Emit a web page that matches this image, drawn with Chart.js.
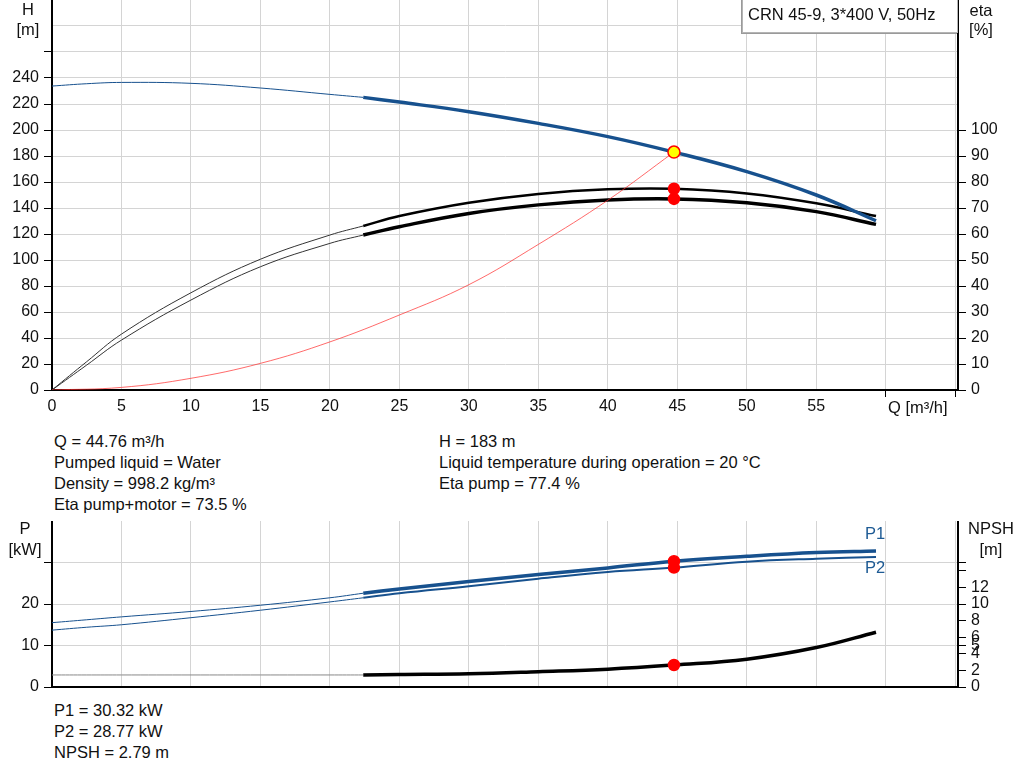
<!DOCTYPE html>
<html>
<head>
<meta charset="utf-8">
<script src="https://cdn.jsdelivr.net/npm/chart.js@4.4.1/dist/chart.umd.min.js"></script>
<style>
  body { margin: 0; background: #fff; }
  #wrap { position: relative; width: 1024px; height: 781px; overflow: hidden; font-family: 'Liberation Sans', Arial, sans-serif; font-size: 16.5px; color: #111; }
  .t { position: absolute; white-space: nowrap; line-height: 18px; }
  .c { text-align: center; }
  #topBox { position: absolute; left: 742px; top: -1px; width: 214px; height: 32px; background: #fff;
            border: 1px solid #b4b4b4; box-shadow: -1px 1px 0 #9a9a9a; }
  canvas { position: absolute; left: 0; }
</style>
</head>
<body>
<div id="wrap">
  <canvas id="topChart" width="1024" height="420" style="top:0"></canvas>
  <canvas id="bottomChart" width="1024" height="176" style="top:521px"></canvas>

  <div id="topBox"><span class="t" style="left:5px;top:5px">CRN 45-9, 3*400 V, 50Hz</span></div>

  <div class="t c" style="left:8px;top:0px;width:40px">H</div>
  <div class="t c" style="left:8px;top:20px;width:40px">[m]</div>
  <div class="t c" style="left:961px;top:1px;width:40px">eta</div>
  <div class="t c" style="left:961px;top:20px;width:40px">[%]</div>
  <div class="t" style="left:888px;top:398px">Q [m³/h]</div>

  <div class="t" style="left:54px;top:432px">Q = 44.76 m³/h</div>
  <div class="t" style="left:54px;top:453px">Pumped liquid = Water</div>
  <div class="t" style="left:54px;top:474px">Density = 998.2 kg/m³</div>
  <div class="t" style="left:54px;top:495px">Eta pump+motor = 73.5 %</div>
  <div class="t" style="left:439px;top:432px">H = 183 m</div>
  <div class="t" style="left:439px;top:453px">Liquid temperature during operation = 20 °C</div>
  <div class="t" style="left:439px;top:474px">Eta pump = 77.4 %</div>

  <div class="t c" style="left:5px;top:519px;width:40px">P</div>
  <div class="t c" style="left:5px;top:540px;width:40px">[kW]</div>
  <div class="t c" style="left:968px;top:519px;width:46px">NPSH</div>
  <div class="t c" style="left:968px;top:540px;width:46px">[m]</div>
  <div class="t" style="left:865px;top:524px;color:#1d5a94">P1</div>
  <div class="t" style="left:865px;top:558px;color:#1d5a94">P2</div>

  <div class="t" style="left:54px;top:701px">P1 = 30.32 kW</div>
  <div class="t" style="left:54px;top:722px">P2 = 28.77 kW</div>
  <div class="t" style="left:54px;top:743px">NPSH = 2.79 m</div>
</div>

<script>
// flow points [m3/h]: thin part (outside working range) and thick part
const qThin = [0, 2.5, 5, 10, 15, 20, 22.4];
const qThick = [22.4, 25, 30, 35, 40, 44.76, 50, 55, 59.3];

// head [m]
const hThin = [233.8, 235.6, 236.6, 235.9, 232.3, 227.4, 225.1];
const hThick = [225.1, 221.5, 214.1, 205.1, 194.9, 183, 168, 150, 130.2];

// efficiency [%]
const etaPumpThin = [0, 10.9, 21.5, 37.4, 50.3, 59.6, 63.1];
const etaPumpThick = [63.1, 66.9, 72.0, 75.4, 77.2, 77.4, 75.6, 71.8, 66.9];
const etaTotalThin = [0, 9.6, 19.2, 34.6, 47.4, 56.4, 59.6];
const etaTotalThick = [59.6, 62.8, 67.9, 71.2, 73.1, 73.5, 72.0, 68.6, 63.7];

// system curve
const qSys = [0, 5, 10, 15, 20, 25, 30, 35, 40, 44.76];
const hSys = [0, 2, 9, 20.5, 37, 57.7, 81, 112, 146, 183];

// power [kW] and NPSH [m]
const p1Thin = [15.5, 16.2, 16.9, 18.2, 19.7, 21.5, 22.6];
const p1Thick = [22.6, 23.6, 25.4, 27.1, 28.7, 30.32, 31.5, 32.4, 32.8];
const p2Thin = [13.7, 14.4, 15.0, 16.7, 18.5, 20.5, 21.5];
const p2Thick = [21.5, 22.6, 24.3, 26.1, 27.7, 28.77, 30.2, 30.9, 31.3];
const npshThin = [1.45, 1.45, 1.45, 1.45, 1.45, 1.45, 1.45];
const npshThick = [1.45, 1.5, 1.6, 1.85, 2.15, 2.65, 3.35, 4.75, 6.6];

// duty point (as drawn)
const dutyQ = 44.76;
const dutyH = 183;
const dutyEta = [77.4, 73.5];
const dutyP = [30.32, 28.77];
const dutyNpsh = 2.65;

// tick values
const qTicks = [0, 5, 10, 15, 20, 25, 30, 35, 40, 45, 50, 55, 60, 65];
const hTicks = [0, 20, 40, 60, 80, 100, 120, 140, 160, 180, 200, 220, 240, 260, 280];
const etaTicks = [0, 10, 20, 30, 40, 50, 60, 70, 80, 90, 100];
const pTicks = [0, 10, 20, 30];
const npshTicks = [0, 2, 4, 5, 6, 8, 10, 12, 14, 15];

const BLUE = '#17518e';
const GRID = '#d4d4d4';
const FONT = { family: "'Liberation Sans', Arial, sans-serif", size: 16 };
const CLEAR = 'rgba(0,0,0,0)';

function pts(xs, ys) {
  return xs.map((x, i) => ({ x: x, y: ys[i] }));
}

function curve(xs, ys, color, width, axis) {
  return {
    data: pts(xs, ys),
    yAxisID: axis,
    borderColor: color,
    borderWidth: width,
    pointRadius: 0,
    fill: false,
    tension: 0.4
  };
}

function dots(xs, ys, axis, fillColor, radius) {
  return {
    data: pts(xs, ys),
    yAxisID: axis,
    showLine: false,
    pointRadius: radius,
    pointBackgroundColor: fillColor,
    pointBorderColor: '#ff0000',
    pointBorderWidth: 1.5
  };
}

function setTicks(list) {
  return axis => { axis.ticks = list.map(v => ({ value: v })); };
}

// fixed axis size, no extra padding for the outer labels
function fixSize(key, size) {
  return s => {
    s[key] = size;
    s.paddingTop = 0;
    s.paddingBottom = 0;
    s.paddingLeft = 0;
    s.paddingRight = 0;
  };
}

const common = {
  responsive: false,
  animation: false,
  events: [],
  layout: { padding: 0, autoPadding: false },
  plugins: { legend: { display: false }, tooltip: { enabled: false } }
};

// upper chart: head, efficiency
new Chart(document.getElementById('topChart'), {
  type: 'line',
  data: {
    datasets: [
      dots([dutyQ], [dutyH], 'h', '#ffff00', 6),
      dots([dutyQ, dutyQ], dutyEta, 'eta', '#ff0000', 5.5),
      curve(qThick, hThick, BLUE, 3.5, 'h'),
      curve(qThin, hThin, BLUE, 1, 'h'),
      curve(qSys, hSys, '#ff2a2a', 0.7, 'h'),
      curve(qThick, etaPumpThick, '#000', 2.5, 'eta'),
      curve(qThin, etaPumpThin, '#333', 1, 'eta'),
      curve(qThick, etaTotalThick, '#000', 3.5, 'eta'),
      curve(qThin, etaTotalThin, '#333', 1, 'eta')
    ]
  },
  options: Object.assign({}, common, {
    scales: {
      x: {
        type: 'linear', min: 0, max: 65.2,
        afterBuildTicks: setTicks(qTicks),
        afterFit: fixSize('height', 30),
        border: { color: '#000', width: 2 },
        grid: { color: GRID, tickLength: 7, tickColor: c => (c.tick && c.tick.value >= 60 ? '#000' : CLEAR) },
        ticks: { font: FONT, color: '#111', padding: 0, autoSkip: false, maxRotation: 0,
                 callback: v => (v <= 55 ? v : '') }
      },
      h: {
        type: 'linear', position: 'left', min: 0, max: 300,
        afterBuildTicks: setTicks(hTicks),
        afterFit: fixSize('width', 52),
        border: { color: '#000', width: 2 },
        grid: { color: GRID, tickLength: 8, tickColor: c => (c.tick && c.tick.value <= 260 ? '#000' : CLEAR) },
        ticks: { font: FONT, color: '#111', padding: 5, autoSkip: false, callback: v => (v <= 240 ? v : '') }
      },
      eta: {
        type: 'linear', position: 'right', min: 0, max: 150,
        afterBuildTicks: setTicks(etaTicks),
        afterFit: fixSize('width', 66),
        border: { color: '#000', width: 2 },
        grid: { drawOnChartArea: false, tickLength: 8, tickColor: '#000' },
        ticks: { font: FONT, color: '#111', padding: 5, autoSkip: false }
      }
    }
  })
});

// lower chart: power, NPSH
new Chart(document.getElementById('bottomChart'), {
  type: 'line',
  data: {
    datasets: [
      dots([dutyQ, dutyQ], dutyP, 'p', '#ff0000', 5.5),
      dots([dutyQ], [dutyNpsh], 'npsh', '#ff0000', 5.5),
      curve(qThick, p1Thick, BLUE, 3.5, 'p'),
      curve(qThin, p1Thin, BLUE, 1, 'p'),
      curve(qThick, p2Thick, BLUE, 2, 'p'),
      curve(qThin, p2Thin, BLUE, 1, 'p'),
      curve(qThick, npshThick, '#000', 3.5, 'npsh'),
      curve(qThin, npshThin, '#888', 1, 'npsh')
    ]
  },
  options: Object.assign({}, common, {
    scales: {
      x: {
        type: 'linear', min: 0, max: 65.2,
        afterBuildTicks: setTicks(qTicks),
        afterFit: fixSize('height', 10),
        border: { color: '#000', width: 2 },
        grid: { color: GRID, drawTicks: false },
        ticks: { display: false }
      },
      p: {
        type: 'linear', position: 'left', min: 0, max: 40,
        afterBuildTicks: setTicks(pTicks),
        afterFit: fixSize('width', 52),
        border: { color: '#000', width: 2 },
        grid: { color: GRID, tickLength: 8, tickColor: '#000' },
        ticks: { font: FONT, color: '#111', padding: 5, autoSkip: false, callback: v => (v <= 20 ? v : '') }
      },
      npsh: {
        type: 'linear', position: 'right', min: 0, max: 20,
        afterBuildTicks: setTicks(npshTicks),
        afterFit: fixSize('width', 66),
        border: { color: '#000', width: 2 },
        grid: { drawOnChartArea: false, tickLength: 8, tickColor: '#000' },
        ticks: { font: FONT, color: '#111', padding: 5, autoSkip: false, callback: v => (v <= 12 ? v : '') }
      }
    }
  })
});
</script>
</body>
</html>
